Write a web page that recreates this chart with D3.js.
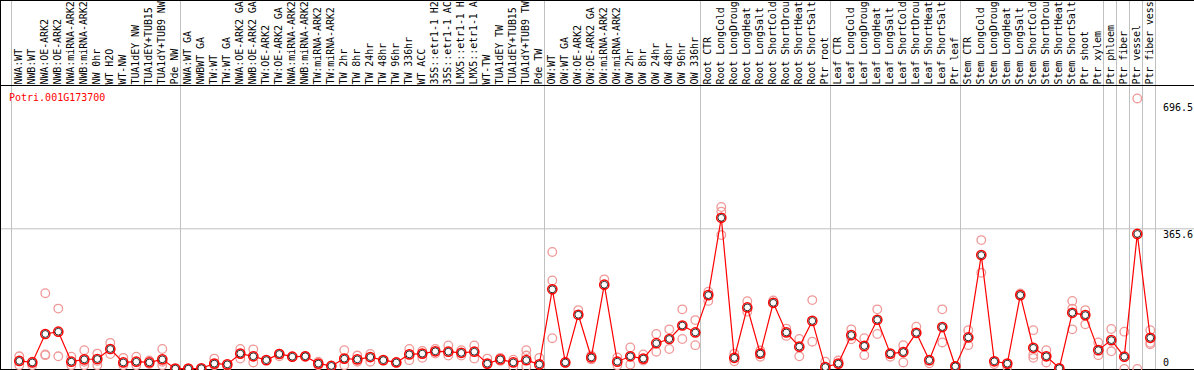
<!DOCTYPE html>
<html>
<head>
<meta charset="utf-8">
<script src="https://cdn.jsdelivr.net/npm/d3@7"></script>
<style>
  body { margin: 0; background: #fff; }
  svg { display: block; }
  text { font-family: "DejaVu Sans Mono", monospace; font-size: 10px; }
</style>
</head>
<body>
<div id="main"></div>
<script>
var geneName = "Potri.001G173700";

// sample names as they show in the header (long ones are cut short there)
var sampleLabels = [
  "NWA:WT", "NWB:WT", "NWA:OE-ARK2", "NWB:OE-ARK2", "NWA:miRNA-ARK2", "NWB:miRNA-ARK2",
  "NW 0hr", "WT H2O", "WT-NW", "TUA1dEY NW", "TUA1dEY+TUB15", "TUA1dY+TUB9 NW", "Pde NW",
  "NWA:WT GA", "NWBWT GA", "TW:WT", "TW:WT GA", "NWA:OE-ARK2 GA", "NWB:OE-ARK2 GA",
  "TW:OE-ARK2", "TW:OE-ARK2 GA", "NWA:miRNA-ARK2", "NWB:miRNA-ARK2", "TW:miRNA-ARK2",
  "TW:miRNA-ARK2", "TW 2hr", "TW 8hr", "TW 24hr", "TW 48hr", "TW 96hr", "TW 336hr",
  "WT ACC", "35S::etr1-1 H2", "35S::etr1-1 AC", "LMX5::etr1-1 H", "LMX5::etr1-1 A",
  "WT-TW", "TUA1dEY TW", "TUA1dEY+TUB15", "TUA1dY+TUB9 TW", "Pde TW",
  "OW:WT", "OW:WT GA", "OW:OE-ARK2", "OW:OE-ARK2 GA", "OW:miRNA-ARK2", "OW:miRNA-ARK2",
  "OW 2hr", "OW 8hr", "OW 24hr", "OW 48hr", "OW 96hr", "OW 336hr",
  "Root CTR", "Root LongCold", "Root LongDroug", "Root LongHeat", "Root LongSalt",
  "Root ShortCold", "Root ShortDrou", "Root ShortHeat", "Root ShortSalt", "Ptr root",
  "Leaf CTR", "Leaf LongCold", "Leaf LongDroug", "Leaf LongHeat", "Leaf LongSalt",
  "Leaf ShortCold", "Leaf ShortDrou", "Leaf ShortHeat", "Leaf ShortSalt", "Ptr leaf",
  "Stem CTR", "Stem LongCold", "Stem LongDroug", "Stem LongHeat", "Stem LongSalt",
  "Stem ShortCold", "Stem ShortDrou", "Stem ShortHeat", "Stem ShortSalt", "Ptr shoot",
  "Ptr xylem", "Ptr phloem", "Ptr fiber", "Ptr vessel", "Ptr fiber vess"
];

// index of the first sample of each group (last entry = end)
var groupStarts = [0, 13, 41, 53, 63, 73, 84, 85, 86, 87, 88];

var meanValues = [
  21, 17, 91, 97, 19, 25, 26, 52, 17, 19, 17, 25, 1,
  1, 2, 14, 12, 40, 33, 23, 39, 32, 33, 14, 8, 27, 25, 31, 23, 17, 38,
  40, 46, 45, 42, 45, 14, 25, 17, 23, 12,
  207, 17, 141, 30, 219, 19, 33, 27, 67, 78, 113, 95,
  192, 393, 29, 160, 40, 172, 95, 58, 125, 5,
  14, 88, 60, 128, 40, 44, 94, 23, 109, 7,
  82, 296, 20, 14, 192, 55, 33, 2, 146, 140,
  49, 75, 32, 351, 81
];

var replicateValues = [
  [33, 10, 21], [19, 10], [197, 36, 38], [157, 33], [32, 10], [49, 10, 19],
  [40, 10, 21], [68, 39], [29, 10], [32, 10], [22, 13], [52, 10, 19], [0],
  [0], [0], [27, 10], [8], [52, 27], [51, 17], [23], [40, 33], [32], [33],
  [19, 10], [8], [49, 10], [35, 19], [39, 19], [23], [17], [52, 23],
  [47, 29], [52, 40], [61, 35], [49, 35], [61, 27], [27], [29, 21], [24, 6],
  [49, 35, 6], [29],
  [304, 230, 80], [17], [153], [35, 25], [233], [30, 10], [56, 12], [38, 22],
  [91, 45], [103, 52], [155, 78], [127, 62],
  [201, 177], [421, 409, 348], [40, 20], [176, 149], [48, 32], [178],
  [105, 86], [78, 33], [179, 71], [19],
  [22], [103, 77], [80, 36], [155, 91], [32], [62, 17], [110], [15],
  [155, 69], [7],
  [101, 62], [335, 250], [13], [5], [196], [101, 37, 29], [49, 17], [0],
  [177, 157, 103], [153, 116],
  [69, 36], [104, 46], [97, 0], [703, 0], [101, 68, 64]
];

var yTickValues = [0, 365.6, 696.5];
var yTickLabels = ["0", "365.6", "696.5"];

var ctx = { w: 1194, h: 370, headerH: 85, plotBottom: 369, plotRight: 1155.3 };

var svg = d3.select("#main").append("svg")
  .attr("width", ctx.w).attr("height", ctx.h);

// x: sample index -> pixel (one 13px column per sample)
var xScale = d3.scaleLinear().domain([0, sampleLabels.length])
  .range([11.3, ctx.plotRight]);
var cx = function(i){ return xScale(i + 0.615); };

var yScale = d3.scaleLinear().domain([0, 365.6]).range([369, 228.3]);

// grid line at 365.6
svg.append("line")
  .attr("x1", 0).attr("x2", ctx.w)
  .attr("y1", yScale(365.6) + 0.5).attr("y2", yScale(365.6) + 0.5)
  .attr("stroke", "#c0c0c0");

// group separators
svg.selectAll("line.sep").data(groupStarts).enter().append("line")
  .attr("class", "sep")
  .attr("x1", function(d){ return Math.round(xScale(d)) + 0.5; })
  .attr("x2", function(d){ return Math.round(xScale(d)) + 0.5; })
  .attr("y1", 0).attr("y2", ctx.plotBottom)
  .attr("stroke", "#c0c0c0");

// frame lines
svg.append("line").attr("x1", 0.5).attr("x2", 0.5).attr("y1", 0).attr("y2", ctx.h).attr("stroke", "#000");
svg.append("line").attr("x1", 0).attr("x2", ctx.w).attr("y1", 0.5).attr("y2", 0.5).attr("stroke", "#000");
svg.append("line").attr("x1", 0).attr("x2", ctx.w).attr("y1", ctx.headerH + 0.5).attr("y2", ctx.headerH + 0.5).attr("stroke", "#000");
svg.append("line").attr("x1", 0).attr("x2", ctx.w).attr("y1", ctx.plotBottom + 0.5).attr("y2", ctx.plotBottom + 0.5).attr("stroke", "#000");

// header labels
svg.append("g").selectAll("text").data(sampleLabels).enter().append("text")
  .attr("transform", function(d, i){ return "translate(" + (cx(i) + 2.3) + ",84.5) rotate(-90)"; })
  .attr("fill", "#000")
  .attr("textLength", function(d){ return d.length * 5.95; })
  .text(function(d){ return d; });

// gene name
svg.append("text").attr("x", 9).attr("y", 101).attr("fill", "#ff0000").text(geneName);

// right axis
var yAxis = d3.axisRight(yScale).tickValues(yTickValues)
  .tickSize(0).tickPadding(0)
  .tickFormat(function(d, i){ return yTickLabels[i]; });
var axG = svg.append("g").attr("transform", "translate(1163,0)").call(yAxis);
axG.select(".domain").remove();
axG.selectAll("text")
  .attr("font-family", "DejaVu Sans Mono, monospace").attr("font-size", 10)
  .attr("fill", "#000")
  .attr("dy", function(d){ return d === 0 ? -4 : (d > 500 ? 10 : 9); });

// replicate points
var reps = [];
replicateValues.forEach(function(arr, i){ arr.forEach(function(v){ reps.push({i: i, v: v}); }); });
svg.append("g").selectAll("circle").data(reps).enter().append("circle")
  .attr("cx", function(d){ return cx(d.i); })
  .attr("cy", function(d){ return yScale(d.v); })
  .attr("r", 4.3)
  .attr("fill", "none")
  .attr("stroke", "#f09898")
  .attr("stroke-width", 1.3);

// mean line
var line = d3.line().x(function(d, i){ return cx(i); }).y(function(d){ return yScale(d); });
svg.append("path").datum(meanValues)
  .attr("d", line).attr("fill", "none")
  .attr("stroke", "#ff0000").attr("stroke-width", 1.2);

// mean points
var mg = svg.append("g").selectAll("g").data(meanValues).enter().append("g")
  .attr("transform", function(d, i){ return "translate(" + cx(i) + "," + yScale(d) + ")"; });
mg.append("circle").attr("r", 4.6).attr("fill", "none").attr("stroke", "#ff0000").attr("stroke-width", 1.5);
mg.append("circle").attr("r", 3.4).attr("fill", "#fff").attr("stroke", "#000").attr("stroke-width", 0.8);
</script>
</body>
</html>
